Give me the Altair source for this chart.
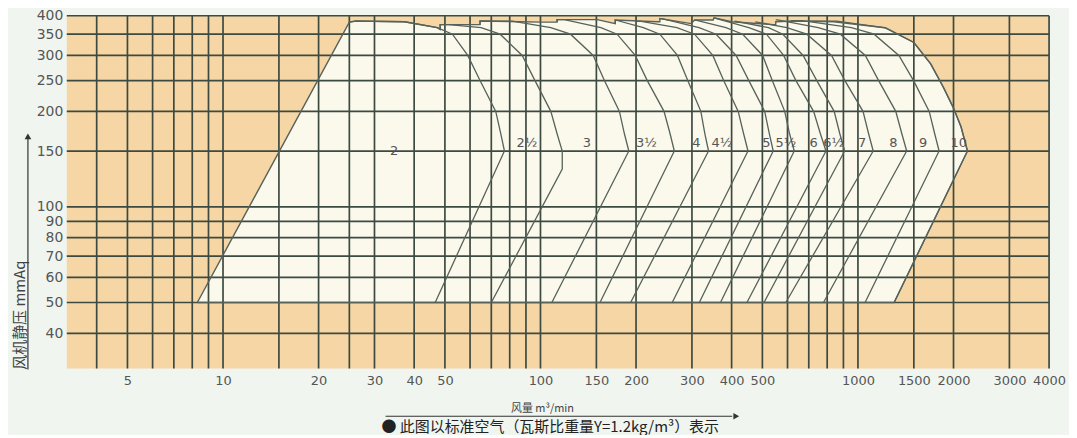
import altair as alt
import pandas as pd

ORANGE = "#f6d6a5"
CREAM = "#fbf8ec"
GRID = "#3d4a41"
CURVE = "#56625a"
TEXT = "#555555"

# grid and tick values
X_GRID = [4, 5, 6, 7, 8, 9, 10, 15, 20, 25, 30, 40, 50, 60, 70, 80, 90, 100, 150, 200,
          300, 400, 500, 600, 700, 800, 900, 1000, 1500, 2000, 3000, 4000]
Y_GRID = [40, 50, 60, 70, 80, 90, 100, 150, 200, 250, 300, 350, 400]
X_LABELS = [5, 10, 20, 30, 40, 50, 100, 150, 200, 300, 400, 500, 1000, 1500, 2000, 3000, 4000]
Y_LABELS = [40, 50, 60, 70, 80, 90, 100, 150, 200, 250, 300, 350, 400]

# overall selection envelope (Q m3/min, P mmAq)
ENVELOPE = [(8.3, 50), (25, 382), (26.2, 385), (37.3, 383), (47.3, 367), (48.3, 362),
            (48.3, 375), (64.5, 375), (64.5, 385), (100.8, 382), (112.8, 382), (112.8, 389),
            (151, 389), (172, 378), (172, 388), (232.4, 383), (237.7, 383), (237.7, 392),
            (298, 378), (306, 388), (350, 388), (352, 394), (400, 383), (541, 375),
            (551, 375), (551, 383), (630, 385), (838.6, 383), (1220, 366.6), (1500, 329.6),
            (1695, 282.3), (1858, 238.3), (2000, 204.8), (2112, 178.8), (2213, 150),
            (1300, 50), (8.3, 50)]

# individual fan size boundaries
FAN_2 = [(25, 382), (26.2, 385), (37.3, 383), (47.3, 367), (52.8, 350), (59, 300),
         (64.5, 250), (72.3, 200), (75, 170), (77, 150), (46.6, 50)]
FAN_2H = [(48.3, 362), (48.3, 375), (51.4, 375), (65, 367), (74.6, 350), (87.6, 300),
          (96.1, 250), (107.8, 200), (112.8, 170), (117.1, 150), (117.1, 131.7), (70, 50)]
FAN_3 = [(64.5, 375), (64.5, 385), (81.5, 385), (107.8, 367), (124.3, 350), (146.6, 300),
         (159, 250), (177.3, 200), (183.8, 170), (189.8, 150), (108.6, 50)]
FAN_3H = [(112.8, 382), (112.8, 389), (118.9, 389), (155, 367), (174.3, 350), (198.8, 300),
          (217, 250), (245, 200), (256, 170), (264, 150), (154, 50)]
FAN_4 = [(172, 378), (172, 388), (210.9, 367), (237.7, 350), (270, 300), (291, 250),
         (320, 200), (329.5, 170), (338.4, 150), (192.3, 50)]
FAN_4H = [(200, 384), (207.6, 384), (269, 367), (305.7, 350), (349, 300), (377.6, 250),
          (419.6, 200), (436.4, 170), (450.5, 150), (260, 50)]
FAN_5 = [(237.7, 392), (241.2, 392), (315.9, 367), (357.4, 350), (413.3, 300), (453.2, 250),
         (508.5, 200), (526, 170), (541, 150), (316.5, 50)]
FAN_5H = [(306, 388), (384, 367), (433.6, 350), (501, 300), (537.2, 250), (588, 200),
          (609, 170), (630, 150), (369, 50)]
FAN_6 = [(352, 394), (453.2, 367), (515, 350), (583.4, 300), (637.8, 250), (725, 200),
         (761.6, 170), (793, 150), (447, 50)]
FAN_6H = [(409, 385), (522.5, 367), (580, 350), (672, 300), (742, 250), (841.6, 200),
          (876.8, 170), (908, 150), (506, 50)]
FAN_7 = [(474.8, 383), (597, 367), (690, 350), (825.7, 300), (909.5, 250), (1037.5, 200),
         (1080.5, 170), (1117, 150), (592.6, 50)]
FAN_8 = [(551, 388), (558, 388), (749.7, 367), (879.8, 350), (1055, 300), (1162, 250),
         (1315.6, 200), (1375, 170), (1424, 150), (779, 50)]
FAN_9 = [(615, 386), (666.6, 386), (953.6, 367), (1124, 350), (1346, 300), (1497, 250),
         (1677, 200), (1745, 170), (1801.6, 150), (1053, 50)]
FAN_10 = [(694, 385), (858.6, 385), (1220, 366.6), (1500, 329.6), (1695, 282.3),
          (1858, 238.3), (2000, 204.8), (2112, 178.8), (2213, 150), (1300, 50)]

FANS = [("2", FAN_2), ("2½", FAN_2H), ("3", FAN_3), ("3½", FAN_3H), ("4", FAN_4),
        ("4½", FAN_4H), ("5", FAN_5), ("5½", FAN_5H), ("6", FAN_6), ("6½", FAN_6H),
        ("7", FAN_7), ("8", FAN_8), ("9", FAN_9), ("10", FAN_10)]

FAN_LABELS = ["2", "2½", "3", "3½", "4", "4½", "5", "5½", "6", "6½", "7", "8", "9", "10"]
LABEL_Q = [34.6, 90.6, 140, 215.6, 310, 373, 515, 593, 725, 838.6, 1030, 1294, 1605, 2079]
LABEL_P = [150, 158.6, 158.6, 158.6, 158.6, 158.6, 158.6, 158.6, 158.6, 158.6, 158.6,
           158.6, 158.6, 158.6]

FOOTNOTE = "● 此图以标准空气（瓦斯比重量Y=1.2kg/m³）表示"

# ---- tables
env_df = pd.DataFrame(ENVELOPE, columns=["Q", "P"])
env_df["i"] = range(len(env_df))
rows = []
for name, pts in FANS:
    for i, (q, p) in enumerate(pts):
        rows.append({"fan": name, "i": i, "Q": q, "P": p})
fan_df = pd.DataFrame(rows)
lab_df = pd.DataFrame({"label": FAN_LABELS, "Q": LABEL_Q, "P": LABEL_P})
xg_df = pd.DataFrame({"Q": X_GRID})
yg_df = pd.DataFrame({"P": Y_GRID})
one = pd.DataFrame({"k": [0]})

xscale = alt.Scale(type="log", domain=[3.22, 4000], nice=False)
yscale = alt.Scale(type="log", domain=[31, 400], nice=False)

xaxis = alt.Axis(values=X_LABELS, format="d", grid=False, ticks=False, domain=False,
                 labelFont="DejaVu Sans", labelFontSize=13, labelColor=TEXT,
                 labelPadding=6, labelOverlap=False, labelFlush=False,
                 title="风量  m³/min", titleFont="Noto Sans CJK SC", titleFontSize=11,
                 titleFontWeight="normal", titleColor="#444444", titleX=477, titleY=40,
                 titleAlign="center", titleBaseline="middle")
yaxis = alt.Axis(values=Y_LABELS, format="d", grid=False, ticks=False, domain=False,
                 labelFont="DejaVu Sans", labelFontSize=14, labelColor=TEXT,
                 labelPadding=4, labelOverlap=False, labelFlush=False,
                 title="风机静压 mmAq", titleFont="Noto Sans CJK SC", titleFontSize=15,
                 titleFontWeight="normal", titleColor="#444444", titleAngle=270,
                 titleX=-47, titleY=300, titleAlign="center", titleBaseline="middle")

X = alt.X("Q:Q", scale=xscale, axis=xaxis)
Y = alt.Y("P:Q", scale=yscale, axis=yaxis)

env_fill = alt.Chart(env_df).mark_line(fill=CREAM, strokeOpacity=0).encode(
    x=X, y=Y, order="i:Q")
xgrid = alt.Chart(xg_df).mark_rule(color=GRID, strokeWidth=1.7).encode(x=X)
ygrid = alt.Chart(yg_df).mark_rule(color=GRID, strokeWidth=1.7).encode(y=Y)
env_line = alt.Chart(env_df).mark_line(color=CURVE, strokeWidth=1.4).encode(
    x=X, y=Y, order="i:Q")
fan_lines = alt.Chart(fan_df).mark_line(color=CURVE, strokeWidth=1.3).encode(
    x=X, y=Y, detail="fan:N", order="i:Q")
labels = alt.Chart(lab_df).mark_text(font="DejaVu Sans", fontSize=13, color=TEXT).encode(
    x=X, y=Y, text="label:N")

yarrow = alt.Chart(one).mark_rule(color="#333333", strokeWidth=1.2).encode(
    x=alt.value(-39), y=alt.value(122), y2=alt.value(355))
yhead = alt.Chart(one).mark_point(shape="triangle-up", filled=True, size=45,
                                  color="#333333", opacity=1).encode(
    x=alt.value(-39), y=alt.value(121))
xarrow = alt.Chart(one).mark_rule(color="#333333", strokeWidth=1.2).encode(
    x=alt.value(320), x2=alt.value(668), y=alt.value(402))
xhead = alt.Chart(one).mark_point(shape="triangle-right", filled=True, size=45,
                                  color="#333333", opacity=1).encode(
    x=alt.value(672), y=alt.value(402))
foot = alt.Chart(one).mark_text(text=FOOTNOTE, align="left", baseline="middle",
                                font="Noto Sans CJK SC", fontSize=15,
                                color="#222222").encode(
    x=alt.value(316), y=alt.value(413))

chart = alt.layer(
    env_fill, xgrid, ygrid, env_line, fan_lines, labels,
    yarrow, yhead, xarrow, xhead, foot
).properties(
    width=986, height=354,
    autosize=alt.AutoSizeParams(type="none"),
    padding={"left": 59, "top": 7, "right": 20, "bottom": 66},
    background="#f0f5f0",
).configure_view(fill=ORANGE, stroke=None)

chart.save("out.html", embed_options={"renderer": "svg", "actions": False})
